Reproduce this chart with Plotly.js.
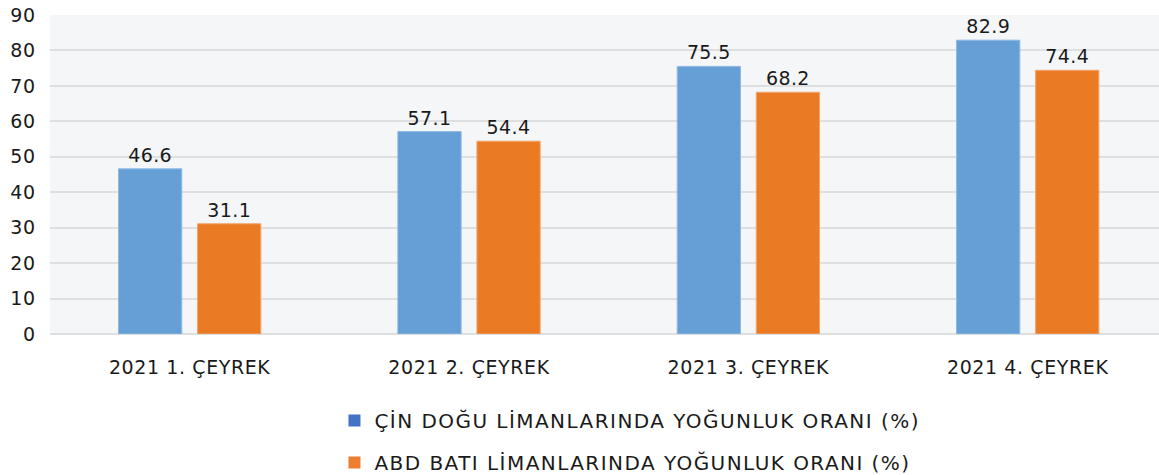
<!DOCTYPE html>
<html><head><meta charset="utf-8">
<script src="https://cdn.plot.ly/plotly-3.0.1.min.js"></script>
<style>
html,body{margin:0;padding:0;background:#fff;}#chart{width:1159px;height:475px;}
.legendtext{letter-spacing:1.45px;}
.xtick text{letter-spacing:0.6px;}
.ytick text{letter-spacing:0.8px;}
text.bartext{letter-spacing:0.4px;}
</style>
</head><body><div id="chart"></div>
<script>
const categories = ["2021 1. ÇEYREK", "2021 2. ÇEYREK", "2021 3. ÇEYREK", "2021 4. ÇEYREK"];
const seriesNames = ["ÇİN DOĞU LİMANLARINDA YOĞUNLUK ORANI (%)", "ABD BATI LİMANLARINDA YOĞUNLUK ORANI (%)"];
const chinaValues = [46.6, 57.1, 75.5, 82.9];
const usaValues = [31.1, 54.4, 68.2, 74.4];
const yTicks = [0, 10, 20, 30, 40, 50, 60, 70, 80, 90];

const FONT = "DejaVu Sans, sans-serif";
const barColors = ["#659FD5", "#EB7A24"];
const legendColors = ["#4472C4", "#ED7D31"];

const traces = [
  {type: "bar", x: categories, y: chinaValues, name: seriesNames[0], showlegend: false,
   marker: {color: barColors[0], line: {color: "#8DB8E3", width: 1}},
   text: chinaValues.map(v => v.toFixed(1)), textposition: "outside", cliponaxis: false,
   textfont: {size: 19, color: "#1a1a1a", family: FONT}},
  {type: "bar", x: categories, y: usaValues, name: seriesNames[1], showlegend: false,
   marker: {color: barColors[1], line: {color: "#F2A46A", width: 1}},
   text: usaValues.map(v => v.toFixed(1)), textposition: "outside", cliponaxis: false,
   textfont: {size: 19, color: "#1a1a1a", family: FONT}},
  {type: "scatter", mode: "markers", x: [null], y: [null], name: seriesNames[0], legendgroup: "a",
   marker: {symbol: "square", size: 15, color: legendColors[0]}},
  {type: "scatter", mode: "markers", x: [null], y: [null], name: seriesNames[1], legendgroup: "b",
   marker: {symbol: "square", size: 15, color: legendColors[1]}}
];

const layout = {
  width: 1159, height: 475,
  margin: {l: 50, r: 0, t: 15, b: 141, autoexpand: false},
  paper_bgcolor: "#ffffff",
  plot_bgcolor: "#F5F6F8",
  font: {family: FONT, size: 19, color: "#1a1a1a"},
  barmode: "group",
  bargap: 0.434,
  bargroupgap: 0.2,
  xaxis: {type: "category", range: [-0.5, 3.47], showgrid: false, zeroline: false,
          showline: false, ticks: "", ticklabelstandoff: 20,
          tickfont: {size: 19, family: FONT, color: "#1a1a1a"}},
  yaxis: {range: [0, 90], tickvals: yTicks, showgrid: true, gridcolor: "#DEDFE1", gridwidth: 2,
          zeroline: true, zerolinecolor: "#DEDFE1", zerolinewidth: 2, showline: false, ticks: "",
          ticklabelstandoff: 13,
          tickfont: {size: 19, family: FONT, color: "#1a1a1a"}},
  showlegend: true,
  legend: {orientation: "v", x: 0.2565, xanchor: "left", y: -0.21, yanchor: "top",
           traceorder: "grouped", tracegroupgap: 13,
           font: {size: 20, family: FONT, color: "#1a1a1a"},
           itemsizing: "constant", bgcolor: "rgba(0,0,0,0)"}
};

Plotly.newPlot("chart", traces, layout, {displayModeBar: false, staticPlot: true});
</script></body></html>
